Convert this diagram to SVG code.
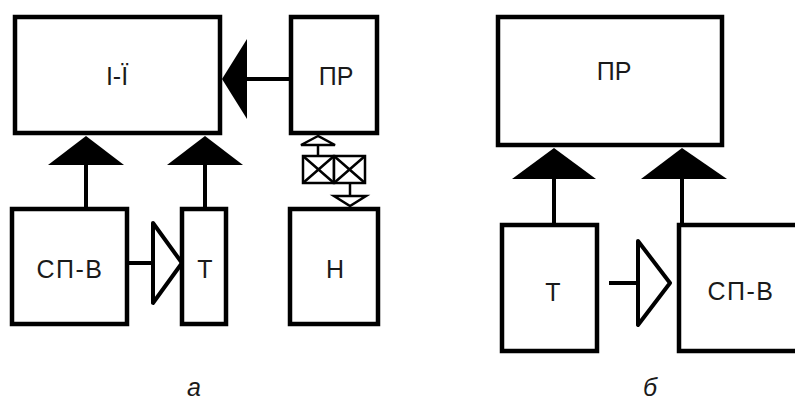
<svg xmlns="http://www.w3.org/2000/svg" width="795" height="403" viewBox="0 0 795 403">
<style>
.box{fill:#fff;stroke:#000;stroke-width:4.5}
.ln{fill:none;stroke:#000;stroke-width:4}
.thin{fill:#fff;stroke:#000;stroke-width:2.5}
.fill{fill:#000;stroke:none}
.hol{fill:#fff;stroke:#000;stroke-width:4;stroke-linejoin:round}
text{font-family:"Liberation Sans",Arial,sans-serif;fill:#1a1a1a;text-anchor:middle}
.lbl{font-size:25px}
.cap{font-size:25px;font-style:italic}
</style>
<rect width="795" height="403" fill="#fff"/>
<g id="connectors">
  <line class="ln" x1="245" y1="79" x2="290" y2="79"/>
  <polygon class="fill" points="222,79 247,39 247,119"/>
  <line class="ln" x1="86" y1="162" x2="86" y2="209"/>
  <polygon class="fill" points="86,136 48,165 124,165"/>
  <line class="ln" x1="205" y1="162" x2="205" y2="209"/>
  <polygon class="fill" points="205,136 167,165 243,165"/>
  <line class="ln" x1="127" y1="263" x2="153" y2="263"/>
  <polygon class="hol" points="153,223 182,263 153,303"/>
  <line class="thin" x1="318" y1="145" x2="318" y2="156"/>
  <polygon class="thin" points="318,136 301,145 335,145"/>
  <line class="thin" x1="350" y1="183" x2="350" y2="196"/>
  <polygon class="thin" points="334,196 366,196 350,206"/>
  <g id="coupling">
    <rect class="thin" x="303" y="156" width="31" height="27"/>
    <rect class="thin" x="334" y="156" width="31" height="27"/>
    <path class="thin" d="M303,156 L334,183 M334,156 L303,183 M334,156 L365,183 M365,156 L334,183"/>
  </g>
  <line class="ln" x1="554" y1="176" x2="554" y2="226"/>
  <polygon class="fill" points="554,148 512,179 596,179"/>
  <line class="ln" x1="682" y1="176" x2="682" y2="226"/>
  <polygon class="fill" points="682,148 641,179 727,179"/>
  <line class="ln" x1="609" y1="283" x2="638" y2="283"/>
  <polygon class="hol" points="638,241 670,283 638,325"/>
</g>
<g id="node-I-Yi">
  <rect class="box" x="15" y="17" width="205" height="116"/>
  <text class="lbl" x="117" y="85">І-Ї</text>
</g>
<g id="node-PR-a">
  <rect class="box" x="291" y="17" width="86" height="116"/>
  <text class="lbl" x="336" y="85">ПР</text>
</g>
<g id="node-SPV-a">
  <rect class="box" x="12" y="209" width="115" height="115"/>
  <text class="lbl" x="70" y="278" letter-spacing="1.5">СП-В</text>
</g>
<g id="node-T-a">
  <rect class="box" x="182" y="209" width="44" height="115"/>
  <text class="lbl" x="205" y="278">Т</text>
</g>
<g id="node-H-a">
  <rect class="box" x="290" y="209" width="88" height="115"/>
  <text class="lbl" x="335" y="278">Н</text>
</g>
<g id="node-PR-b">
  <rect class="box" x="498" y="17" width="224" height="128"/>
  <text class="lbl" x="614" y="80">ПР</text>
</g>
<g id="node-T-b">
  <rect class="box" x="502" y="225" width="95" height="126"/>
  <text class="lbl" x="553" y="301">Т</text>
</g>
<g id="node-SPV-b">
  <rect class="box" x="679" y="225" width="130" height="126"/>
  <text class="lbl" x="741" y="300" font-size="27" letter-spacing="1.5">СП-В</text>
</g>
<text class="cap" x="194" y="396">а</text>
<text class="cap" x="650" y="396">б</text>
</svg>
